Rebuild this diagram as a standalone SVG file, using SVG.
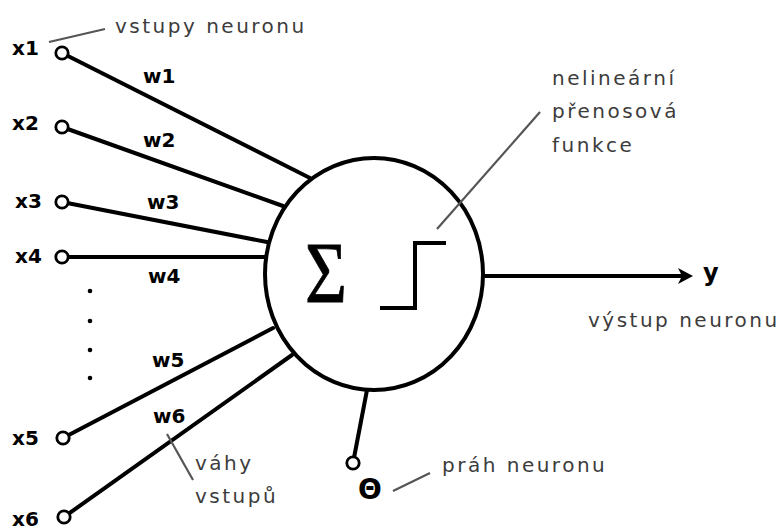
<svg xmlns="http://www.w3.org/2000/svg" width="782" height="530" viewBox="0 0 782 530">
<style>
.lbl{font-family:"DejaVu Sans","Liberation Sans",sans-serif;font-weight:bold;font-size:20px;fill:#000}
.note{font-family:"DejaVu Sans","Liberation Sans",sans-serif;font-size:20px;letter-spacing:2.5px;fill:#3c3c3c}
.wire{stroke:#000;stroke-width:4;fill:none;stroke-linecap:round}
.lead{stroke:#555;stroke-width:2.2;fill:none}
.port{fill:#fff;stroke:#000;stroke-width:2.8}
</style>
<rect width="782" height="530" fill="#fff"/>
<g id="connectors">
<line class="wire" x1="62" y1="53" x2="310" y2="178"/>
<line class="wire" x1="62" y1="127" x2="283" y2="206"/>
<line class="wire" x1="62" y1="202" x2="267" y2="242"/>
<line class="wire" x1="62" y1="257" x2="266" y2="257"/>
<line class="wire" x1="63" y1="438" x2="273" y2="328"/>
<line class="wire" x1="64" y1="517" x2="292" y2="355"/>
<line class="wire" x1="353" y1="463" x2="367" y2="390"/>
<line class="wire" x1="483" y1="276" x2="684" y2="276"/>
<path d="M693,276 L678,268 L682,276 L678,284 Z" fill="#000"/>
</g>
<g id="neuron">
<ellipse cx="374" cy="274" rx="109" ry="116" fill="#fff" stroke="#000" stroke-width="4"/>
<text transform="translate(305,302) scale(0.84,1)" font-family="Liberation Serif,serif" font-size="86" stroke="#000" stroke-width="0.8">Σ</text>
<polyline points="380,308 415,308 415,243 446,243" fill="none" stroke="#000" stroke-width="4"/>
</g>
<g id="inputs">
<circle class="port" cx="62" cy="53" r="6.2"/>
<circle class="port" cx="62" cy="127" r="6.2"/>
<circle class="port" cx="62" cy="202" r="6.2"/>
<circle class="port" cx="62" cy="257" r="6.2"/>
<circle class="port" cx="63" cy="438" r="6.2"/>
<circle class="port" cx="64" cy="517" r="6.2"/>
<text class="lbl" x="12" y="55">x1</text>
<text class="lbl" x="12" y="130">x2</text>
<text class="lbl" x="15" y="208">x3</text>
<text class="lbl" x="15" y="263">x4</text>
<text class="lbl" x="12" y="445">x5</text>
<text class="lbl" x="12" y="526">x6</text>
<circle cx="90" cy="291" r="2.3"/>
<circle cx="90" cy="321" r="2.3"/>
<circle cx="90" cy="350" r="2.3"/>
<circle cx="90" cy="378" r="2.3"/>
</g>
<g id="weights">
<text class="lbl" x="143" y="83">w1</text>
<text class="lbl" x="143" y="147">w2</text>
<text class="lbl" x="147" y="209">w3</text>
<text class="lbl" x="148" y="283">w4</text>
<text class="lbl" x="152" y="367">w5</text>
<text class="lbl" x="153" y="423">w6</text>
</g>
<g id="threshold">
<circle class="port" cx="353" cy="463" r="6.2"/>
<text x="370" y="499" text-anchor="middle" font-family="DejaVu Sans,sans-serif" font-weight="bold" font-size="28">Θ</text>
</g>
<g id="output">
<text x="703" y="281" font-family="DejaVu Sans,sans-serif" font-weight="bold" font-size="24">y</text>
</g>
<g id="annotations">
<line class="lead" x1="49" y1="42" x2="105" y2="29"/>
<text class="note" x="115" y="33">vstupy neuronu</text>
<line class="lead" x1="540" y1="112" x2="437" y2="229"/>
<text class="note" x="552" y="85">nelineární</text>
<text class="note" x="552" y="118">přenosová</text>
<text class="note" x="552" y="152">funkce</text>
<text class="note" x="588" y="327">výstup neuronu</text>
<line class="lead" x1="393" y1="491" x2="430" y2="473"/>
<text class="note" x="442" y="472">práh neuronu</text>
<line class="lead" x1="167" y1="434" x2="193" y2="480"/>
<text class="note" x="195" y="470">váhy</text>
<text class="note" x="195" y="503">vstupů</text>
</g>
</svg>
